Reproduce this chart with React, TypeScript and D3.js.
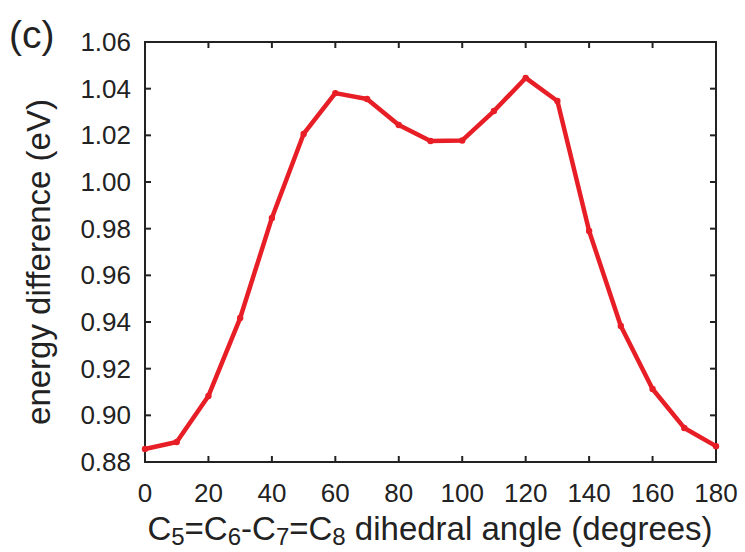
import React from 'react';
import { scaleLinear, line } from 'd3';

const angles = [0, 10, 20, 30, 40, 50, 60, 70, 80, 90, 100, 110, 120, 130, 140, 150, 160, 170, 180];
const energies = [
  0.8856, 0.8886, 0.9083, 0.9417, 0.9846, 1.0206, 1.0381, 1.0356, 1.0244, 1.0176,
  1.0178, 1.0304, 1.0446, 1.0347, 0.979, 0.9383, 0.9113, 0.8946, 0.8868,
];
const xTicks = [0, 20, 40, 60, 80, 100, 120, 140, 160, 180];
const yTicks = [0.88, 0.9, 0.92, 0.94, 0.96, 0.98, 1.0, 1.02, 1.04, 1.06];

const App = () => {
  const width = 745;
  const height = 552;
  const margin = { top: 42, right: 29, bottom: 90, left: 145 };
  const x = scaleLinear().domain([0, 180]).range([margin.left, width - margin.right]);
  const y = scaleLinear().domain([0.88, 1.06]).range([height - margin.bottom, margin.top]);
  const pts = angles.map((a, i) => [a, energies[i]] as [number, number]);
  const path = line<[number, number]>()
    .x((d) => x(d[0]))
    .y((d) => y(d[1]))(pts);
  const font = "'Liberation Sans', Arial, Helvetica, sans-serif";
  const tick = 6;
  const [x0, x1] = x.range();
  const [y0, y1] = y.range();

  return (
    <svg width={width} height={height} style={{ position: 'absolute', left: 0, top: 0 }} fontFamily={font}>
      <rect width={width} height={height} fill='#fff' />
      <text x={9} y={48} fontSize={39} fill='#222'>(c)</text>

      {/* ticks, mirrored on all four sides */}
      {xTicks.map((t) => (
        <g key={'x' + t}>
          <line x1={x(t)} x2={x(t)} y1={y0} y2={y0 - tick} stroke='#222' strokeWidth={2} />
          <line x1={x(t)} x2={x(t)} y1={y1} y2={y1 + tick} stroke='#222' strokeWidth={2} />
          <text x={x(t)} y={502} fontSize={26} textAnchor='middle' fill='#222'>{t}</text>
        </g>
      ))}
      {yTicks.map((t) => (
        <g key={'y' + t}>
          <line x1={x0} x2={x0 + tick} y1={y(t)} y2={y(t)} stroke='#222' strokeWidth={2} />
          <line x1={x1} x2={x1 - tick} y1={y(t)} y2={y(t)} stroke='#222' strokeWidth={2} />
          <text x={131} y={y(t) + 9} fontSize={26} textAnchor='end' fill='#222'>{t.toFixed(2)}</text>
        </g>
      ))}

      <rect x={x0} y={y1} width={x1 - x0} height={y0 - y1} fill='none' stroke='#222' strokeWidth={2} />

      <path d={path ?? ''} fill='none' stroke='#e81e26' strokeWidth={4.5} strokeLinejoin='round' />
      {pts.map((d, i) => (
        <circle key={i} cx={x(d[0])} cy={y(d[1])} r={3.2} fill='#e81e26' />
      ))}

      <text x={430} y={540} fontSize={33} textAnchor='middle' fill='#222'>
        C<tspan fontSize={24} dy={5}>5</tspan>
        <tspan dy={-5}>=C</tspan><tspan fontSize={24} dy={5}>6</tspan>
        <tspan dy={-5}>-C</tspan><tspan fontSize={24} dy={5}>7</tspan>
        <tspan dy={-5}>=C</tspan><tspan fontSize={24} dy={5}>8</tspan>
        <tspan dy={-5}> dihedral angle (degrees)</tspan>
      </text>
      <text
        transform={`translate(50,262) rotate(-90)`}
        fontSize={33}
        textAnchor='middle'
        fill='#222'
      >
        energy difference (eV)
      </text>
    </svg>
  );
};

export default App;
